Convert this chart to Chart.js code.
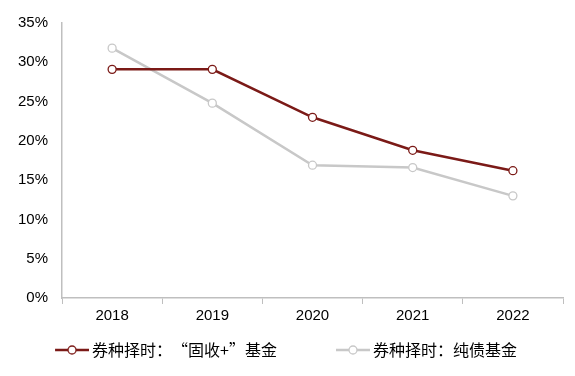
<!DOCTYPE html>
<html>
<head>
<meta charset="utf-8">
<script src="https://cdn.jsdelivr.net/npm/chart.js@4/dist/chart.umd.min.js"></script>
<style>
  html, body { margin: 0; padding: 0; background: #fff; }
  #wrap { width: 575px; height: 376px; }
</style>
</head>
<body>
<div id="wrap"><canvas id="chart"></canvas></div>
<script>
// categories and series (percent)
const years = ["2018", "2019", "2020", "2021", "2022"]
const guShouPlus = [29.1, 29.1, 23.0, 18.8, 16.2]
const chunZhai = [31.8, 24.8, 16.9, 16.6, 13.0]
const seriesNames = ["券种择时：“固收+”基金", "券种择时：纯债基金"]

const redColor = "#7b1a17"
const grayColor = "#c8c8c8"
const axisColor = "#bfbfbf"

// legend marker: short line with a hollow circle, pushed right so the text sits close
function legendIcon(color) {
    let c = document.createElement("canvas")
    c.width = 44
    c.height = 12
    let g = c.getContext("2d")
    g.strokeStyle = color
    g.lineWidth = 2.5
    g.beginPath()
    g.moveTo(10, 6)
    g.lineTo(44, 6)
    g.stroke()
    g.fillStyle = "#fff"
    g.lineWidth = 1.3
    g.beginPath()
    g.arc(27, 6, 4, 0, Math.PI * 2)
    g.fill()
    g.stroke()
    return c
}

const ctx = document.getElementById("chart")
const chart = new Chart(ctx, {
    type: "line",
    data: {
        labels: years,
        datasets: [{
            label: seriesNames[0],
            data: guShouPlus,
            borderColor: redColor,
            borderWidth: 2.5,
            pointStyle: "circle",
            pointRadius: 4,
            pointBorderWidth: 1.3,
            pointBackgroundColor: "#fff",
            pointBorderColor: redColor
        }, {
            label: seriesNames[1],
            data: chunZhai,
            borderColor: grayColor,
            borderWidth: 2.5,
            pointStyle: "circle",
            pointRadius: 4,
            pointBorderWidth: 1.3,
            pointBackgroundColor: "#fff",
            pointBorderColor: grayColor
        }]
    },
    options: {
        responsive: true,
        maintainAspectRatio: false,
        animation: false,
        layout: { padding: { left: 4, right: 12, top: 14, bottom: 8 } },
        scales: {
            x: {
                offset: true,
                grid: {
                    display: true,
                    drawOnChartArea: false,
                    drawTicks: true,
                    tickLength: 6,
                    color: axisColor,
                    offset: true
                },
                border: { color: axisColor, width: 1.5 },
                ticks: {
                    color: "#000",
                    font: { family: "Liberation Sans, Arial", size: 15 },
                    padding: 3
                }
            },
            y: {
                min: 0,
                max: 35,
                grid: { display: false, drawTicks: false },
                border: { color: axisColor, width: 1.5 },
                ticks: {
                    stepSize: 5,
                    color: "#000",
                    padding: 14,
                    font: { family: "Liberation Sans, Arial", size: 15 },
                    callback: function (value) {
                        return value + "%"
                    }
                }
            }
        },
        plugins: {
            tooltip: { enabled: false },
            legend: {
                display: true,
                position: "bottom",
                labels: {
                    usePointStyle: true,
                    pointStyleWidth: 34,
                    boxHeight: 12,
                    color: "#000",
                    padding: 14,
                    font: { family: "Noto Sans CJK SC", size: 16 },
                    generateLabels: function (chart) {
                        return chart.data.datasets.map((ds, i) => ({
                            text: ds.label + (i === 0 ? "\u2003\u2003\u2002" : ""),
                            pointStyle: legendIcon(ds.borderColor),
                            fillStyle: "#fff",
                            strokeStyle: ds.borderColor,
                            lineWidth: 0,
                            datasetIndex: i,
                            fontColor: "#000"
                        }))
                    }
                }
            }
        }
    }
})
</script>
</body>
</html>
